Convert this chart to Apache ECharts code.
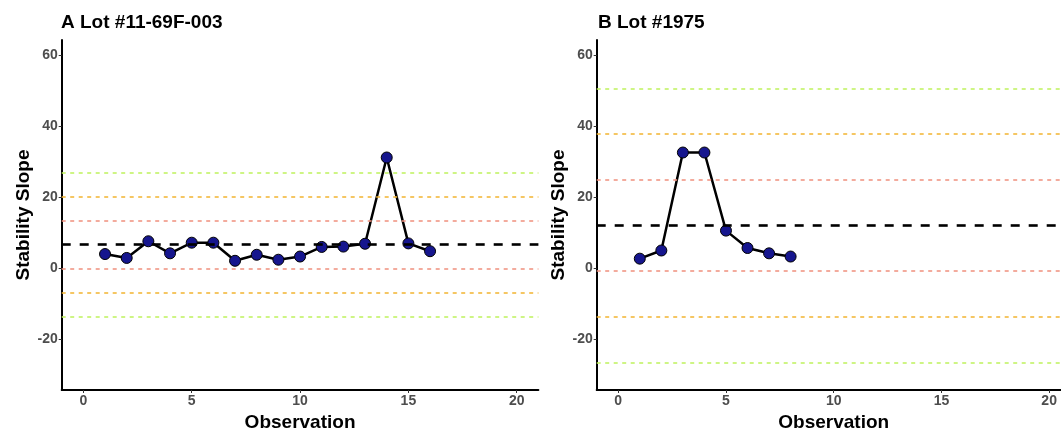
<!DOCTYPE html>
<html>
<head>
<meta charset="utf-8">
<script src="https://cdn.jsdelivr.net/npm/echarts@6/dist/echarts.min.js"></script>
<style>
  html, body { margin: 0; padding: 0; background: #fff; }
  #main { width: 1061px; height: 429px; }
</style>
</head>
<body>
<div id="main"></div>
<script>
var obsA = [1, 2, 3, 4, 5, 6, 7, 8, 9, 10, 11, 12, 13, 14, 15, 16];
var slopeA = [4.0, 2.9, 7.6, 4.2, 7.2, 7.2, 2.1, 3.8, 2.4, 3.3, 6.0, 6.1, 6.9, 31.2, 7.0, 4.8];
var obsB = [1, 2, 3, 4, 5, 6, 7, 8];
var slopeB = [2.7, 5.0, 32.6, 32.6, 10.6, 5.7, 4.2, 3.3];

// centre line and +/- 1, 2, 3 sd limits
var centerA = 6.65, sdA = 6.75;
var centerB = 12.05, sdB = 12.85;

var xTicks = [0, 5, 10, 15, 20];
var yTicks = [-20, 0, 20, 40, 60];

var font = 'Liberation Sans, Arial, sans-serif';
var limitColors = ['#f0907e', '#f2b431', '#bff25c'];

function pairs(xs, ys) {
	return xs.map(function(x, i) { return [x, ys[i]]; });
}

function limitLines(center, sd) {
	var data = [];
	for (var k = 1; k <= 3; k++) {
		[center - k * sd, center + k * sd].forEach(function(v) {
			data.push({
				yAxis: v,
				lineStyle: { color: limitColors[k - 1], width: 1.5, type: [4, 4.5] }
			});
		});
	}
	data.push({ yAxis: center, lineStyle: { color: '#000', width: 2.6, type: [9, 9] } });
	return data;
}

function xAxis(idx) {
	return {
		type: 'value', gridIndex: idx, min: -1, max: 21,
		name: 'Observation', nameLocation: 'middle', nameGap: 20,
		nameTextStyle: { fontFamily: font, fontWeight: 'bold', fontSize: 19, color: '#000' },
		axisLine: { onZero: false, lineStyle: { color: '#000', width: 2 } },
		axisTick: { show: true, length: 3, customValues: xTicks, lineStyle: { color: '#333' } },
		axisLabel: { customValues: xTicks, margin: 4, fontFamily: font, fontWeight: 'bold', fontSize: 14, color: '#4d4d4d' },
		splitLine: { show: false }
	};
}

function yAxis(idx) {
	return {
		type: 'value', gridIndex: idx, min: -34.3, max: 64.3,
		name: 'Stability Slope', nameLocation: 'middle', nameGap: 28, nameRotate: 90,
		nameTextStyle: { fontFamily: font, fontWeight: 'bold', fontSize: 19, color: '#000' },
		axisLine: { show: true, onZero: false, lineStyle: { color: '#000', width: 2 } },
		axisTick: { show: true, length: 3, customValues: yTicks, lineStyle: { color: '#333' } },
		axisLabel: { customValues: yTicks, margin: 4, fontFamily: font, fontWeight: 'bold', fontSize: 14, color: '#4d4d4d' },
		splitLine: { show: false }
	};
}

function lineSeries(idx, data, center, sd) {
	return {
		type: 'line', xAxisIndex: idx, yAxisIndex: idx,
		data: data,
		symbol: 'circle', symbolSize: 11,
		lineStyle: { color: '#000', width: 2.5 },
		itemStyle: { color: '#16168e', borderColor: '#000', borderWidth: 1 },
		markLine: {
			silent: true, symbol: 'none', label: { show: false },
			animation: false,
			data: limitLines(center, sd)
		},
		z: 3,
		animation: false
	};
}

var myChart = echarts.init(document.getElementById('main'));
var option = {
	backgroundColor: '#fff',
	animation: false,
	title: [
		{ text: 'A Lot #11-69F-003', left: 56, top: 8,
			textStyle: { fontFamily: font, fontWeight: 'bold', fontSize: 19, color: '#000' } },
		{ text: 'B Lot #1975', left: 593, top: 8,
			textStyle: { fontFamily: font, fontWeight: 'bold', fontSize: 19, color: '#000' } }
	],
	grid: [
		{ left: 61.7, top: 40, width: 476.7, height: 350, outerBoundsMode: 'none' },
		{ left: 596.7, top: 40, width: 474, height: 350, outerBoundsMode: 'none' }
	],
	xAxis: [xAxis(0), xAxis(1)],
	yAxis: [yAxis(0), yAxis(1)],
	series: [
		lineSeries(0, pairs(obsA, slopeA), centerA, sdA),
		lineSeries(1, pairs(obsB, slopeB), centerB, sdB)
	]
};
myChart.setOption(option);
</script>
</body>
</html>
